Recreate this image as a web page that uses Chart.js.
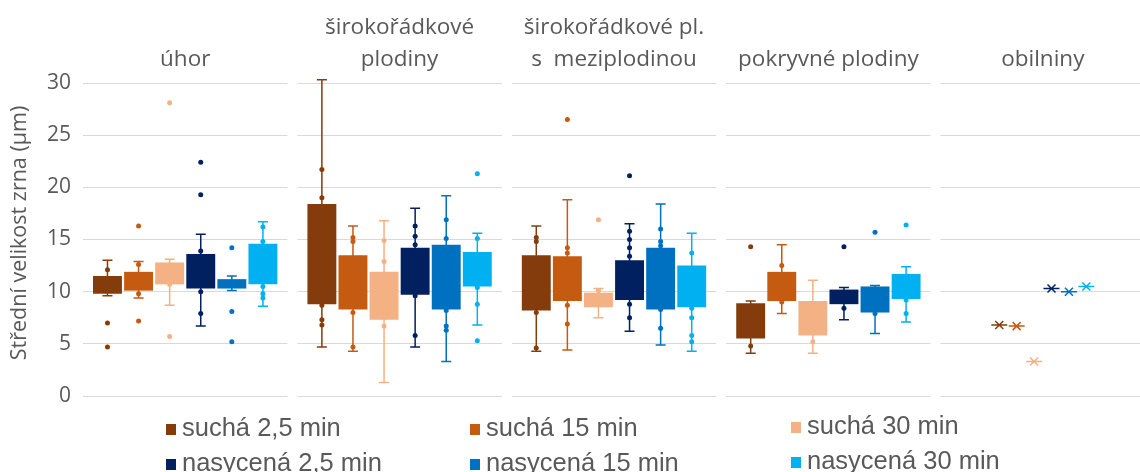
<!DOCTYPE html>
<html>
<head>
<meta charset="utf-8">
<script src="https://cdn.jsdelivr.net/npm/chart.js@4.4.1/dist/chart.umd.min.js"></script>
<style>
    html, body { margin: 0; padding: 0; background: #fff; overflow: hidden; }
    #wrap { position: relative; width: 1140px; height: 472px; overflow: hidden; }
    #grainChart { position: absolute; left: 0; top: 0; }
    .legend-item {
        position: absolute;
        font-family: "Liberation Sans", Arial, sans-serif;
        font-size: 25.5px;
        color: #595959;
        white-space: nowrap;
        line-height: 30px;
    }
    .legend-item .swatch {
        display: inline-block;
        width: 10px;
        height: 11px;
        margin-right: 6px;
        vertical-align: 1px;
    }
</style>
</head>
<body>
<div id="wrap">
    <canvas id="grainChart" width="1150" height="472" style="width:1150px;height:472px"></canvas>
    <div id="legend"></div>
</div>
<script>
// categories (header lines per panel)
const groups = [
    ['úhor'],
    ['širokořádkové', 'plodiny'],
    ['širokořádkové pl.', 's  meziplodinou'],
    ['pokryvné plodiny'],
    ['obilniny']
];
const seriesNames = ['suchá 2,5 min', 'suchá 15 min', 'suchá 30 min', 'nasycená 2,5 min', 'nasycená 15 min', 'nasycená 30 min'];
const seriesColors = ['#843C0C', '#C55A11', '#F4B183', '#002060', '#0070C0', '#00B0F0'];
const yTicks = [0, 5, 10, 15, 20, 25, 30];

// box bottom (Q1) and top (Q3), one row per series, one column per panel
const boxLow = [
    [9.8, 8.8, 8.2, 5.5, 6.8],
    [10.1, 8.3, 9.1, 9.1, 6.7],
    [10.7, 7.3, 8.5, 5.8, 3.3],
    [10.3, 9.7, 9.2, 8.8, 10.3],
    [10.3, 8.3, 8.3, 8.0, 10.0],
    [10.7, 10.5, 8.5, 9.3, 10.5]
];
const boxHigh = [
    [11.5, 18.4, 13.5, 8.9, 6.8],
    [11.9, 13.5, 13.4, 11.9, 6.7],
    [12.8, 11.9, 9.9, 9.1, 3.3],
    [13.6, 14.2, 13.0, 10.2, 10.3],
    [11.2, 14.5, 14.2, 10.5, 10.0],
    [14.6, 13.8, 12.5, 11.7, 10.5]
];
const whiskerLow = [
    [9.6, 4.7, 4.3, 4.1, 6.8],
    [9.4, 4.3, 4.4, 7.9, 6.7],
    [8.7, 1.3, 7.5, 4.1, 3.3],
    [6.7, 4.7, 6.2, 7.3, 10.3],
    [10.1, 3.3, 4.9, 6.0, 10.0],
    [8.6, 6.8, 4.3, 7.1, 10.5]
];
const whiskerHigh = [
    [13.0, 30.3, 16.3, 9.1, 6.8],
    [12.9, 16.3, 18.8, 14.5, 6.7],
    [13.1, 16.8, 10.3, 11.1, 3.3],
    [15.5, 18.0, 16.5, 10.4, 10.3],
    [11.5, 19.2, 18.4, 10.6, 10.0],
    [16.7, 15.6, 15.6, 12.4, 10.5]
];
// individual measured points
const points = [
    [[12.1, 7.0, 4.7], [21.7, 19.0, 8.7, 7.3, 6.8], [15.2, 14.8, 8.0, 4.6], [14.3, 4.8], []],
    [[16.3, 12.6, 9.8, 7.2], [15.2, 14.8, 8.0, 4.7], [26.5, 14.2, 13.7, 8.7, 6.9], [12.5, 9.0], []],
    [[28.1, 10.7, 5.7], [14.9, 12.9, 6.7], [16.9, 10.1], [5.2], []],
    [[22.4, 19.3, 13.9, 10.0, 7.9], [16.3, 15.3, 14.5, 9.6, 5.8], [21.1, 15.8, 15.0, 14.2, 13.4, 8.8, 7.5], [14.3, 8.4], []],
    [[14.2, 8.1, 5.2], [16.9, 15.1, 8.2, 6.7, 6.3], [16.0, 14.8, 14.4, 8.3, 6.5], [15.7, 7.9], []],
    [[16.2, 14.8, 10.5, 9.8, 9.4], [21.3, 15.1, 10.4, 8.8, 5.3], [13.7, 8.4, 7.5, 5.8, 5.2], [16.4, 9.2, 7.9], []]
];

const textGray = '#595959';
const panelGap = 10;

// white gaps between the panels, whiskers behind the boxes
const boxPlotPlugin = {
    id: 'boxPlot',
    beforeDatasetsDraw(chart) {
        const ctx = chart.ctx;
        const area = chart.chartArea;
        const x = chart.scales.x;
        const y = chart.scales.y;
        ctx.save();
        ctx.fillStyle = '#fff';
        ctx.fillRect(area.left - 2, area.top - 2, panelGap / 2 + 2, area.bottom - area.top + 4);
        for (let g = 0; g < groups.length - 1; g++) {
            const mid = (x.getPixelForValue(g) + x.getPixelForValue(g + 1)) / 2;
            ctx.fillRect(mid - panelGap / 2, area.top - 2, panelGap, area.bottom - area.top + 4);
        }
        ctx.lineWidth = 1.5;
        seriesNames.forEach((name, i) => {
            const meta = chart.getDatasetMeta(i);
            ctx.strokeStyle = seriesColors[i];
            meta.data.forEach((bar, g) => {
                if (boxLow[i][g] === boxHigh[i][g]) return;
                const top = y.getPixelForValue(whiskerHigh[i][g]);
                const bot = y.getPixelForValue(whiskerLow[i][g]);
                ctx.beginPath();
                ctx.moveTo(bar.x, top);
                ctx.lineTo(bar.x, bot);
                ctx.moveTo(bar.x - 5, top);
                ctx.lineTo(bar.x + 5, top);
                ctx.moveTo(bar.x - 5, bot);
                ctx.lineTo(bar.x + 5, bot);
                ctx.stroke();
            });
        });
        ctx.restore();
    },
    afterDatasetsDraw(chart) {
        const ctx = chart.ctx;
        const x = chart.scales.x;
        const y = chart.scales.y;
        ctx.save();
        seriesNames.forEach((name, i) => {
            const meta = chart.getDatasetMeta(i);
            meta.data.forEach((bar, g) => {
                ctx.fillStyle = seriesColors[i];
                points[i][g].forEach(v => {
                    ctx.beginPath();
                    ctx.arc(bar.x, y.getPixelForValue(v), 2.5, 0, Math.PI * 2);
                    ctx.fill();
                });
                if (boxLow[i][g] === boxHigh[i][g]) {
                    // single value: asterisk marker, boxes packed tighter
                    const c = x.getPixelForValue(g);
                    const px = c + (bar.x - c) * 0.56;
                    const py = y.getPixelForValue(boxLow[i][g]);
                    ctx.strokeStyle = seriesColors[i];
                    ctx.lineWidth = 1.5;
                    ctx.beginPath();
                    ctx.moveTo(px - 8, py);
                    ctx.lineTo(px + 8, py);
                    ctx.moveTo(px - 4, py - 4);
                    ctx.lineTo(px + 4, py + 4);
                    ctx.moveTo(px - 4, py + 4);
                    ctx.lineTo(px + 4, py - 4);
                    ctx.stroke();
                }
            });
        });
        ctx.restore();
    },
    afterDraw(chart) {
        const ctx = chart.ctx;
        const x = chart.scales.x;
        ctx.save();
        ctx.fillStyle = textGray;
        ctx.font = '22.5px "Open Sans"';
        ctx.textAlign = 'center';
        ctx.textBaseline = 'middle';
        groups.forEach((lines, g) => {
            const cx = x.getPixelForValue(g);
            const ys = lines.length === 2 ? [28, 60] : [60];
            lines.forEach((t, k) => ctx.fillText(t, cx, ys[k]));
        });
        ctx.translate(20, 233);
        ctx.rotate(-Math.PI / 2);
        ctx.font = '21.5px "Open Sans"';
        ctx.fillText('Střední velikost zrna (µm)', 0, 0);
        ctx.restore();
    }
};

const ctx = document.getElementById('grainChart').getContext('2d');
const chart = new Chart(ctx, {
    type: 'bar',
    data: {
        labels: groups.map(l => l.join(' ')),
        datasets: seriesNames.map((name, i) => ({
            label: name,
            data: boxLow[i].map((lo, g) => [lo, boxHigh[i][g]]),
            backgroundColor: seriesColors[i],
            borderWidth: 0,
            barPercentage: 0.93,
            categoryPercentage: 0.87
        }))
    },
    options: {
        responsive: false,
        animation: false,
        layout: { padding: { top: 83, bottom: 76, left: 0, right: 0 } },
        scales: {
            x: { display: false },
            y: {
                min: 0,
                max: 30,
                afterFit(scale) { scale.width = 78; },
                afterBuildTicks(scale) { scale.ticks = yTicks.map(v => ({ value: v })); },
                grid: { color: '#d9d9d9', lineWidth: 1, drawTicks: false },
                border: { display: false },
                ticks: {
                    padding: 7,
                    color: textGray,
                    font: { family: '"Open Sans"', size: 21 }
                }
            }
        },
        plugins: {
            legend: { display: false },
            tooltip: { enabled: false }
        }
    },
    plugins: [boxPlotPlugin]
});

// legend in three columns, two rows
const legendCols = [166, 470, 791];
const legendRows = [[412, 447], [412, 447], [410, 445]];
const legendDiv = document.getElementById('legend');
seriesNames.forEach((name, i) => {
    const col = i % 3;
    const row = Math.floor(i / 3);
    const item = document.createElement('div');
    item.className = 'legend-item';
    item.style.left = legendCols[col] + 'px';
    item.style.top = legendRows[col][row] + 'px';
    item.innerHTML = `<span class="swatch" style="background:${seriesColors[i]}"></span>${name}`;
    legendDiv.appendChild(item);
});
</script>
</body>
</html>
